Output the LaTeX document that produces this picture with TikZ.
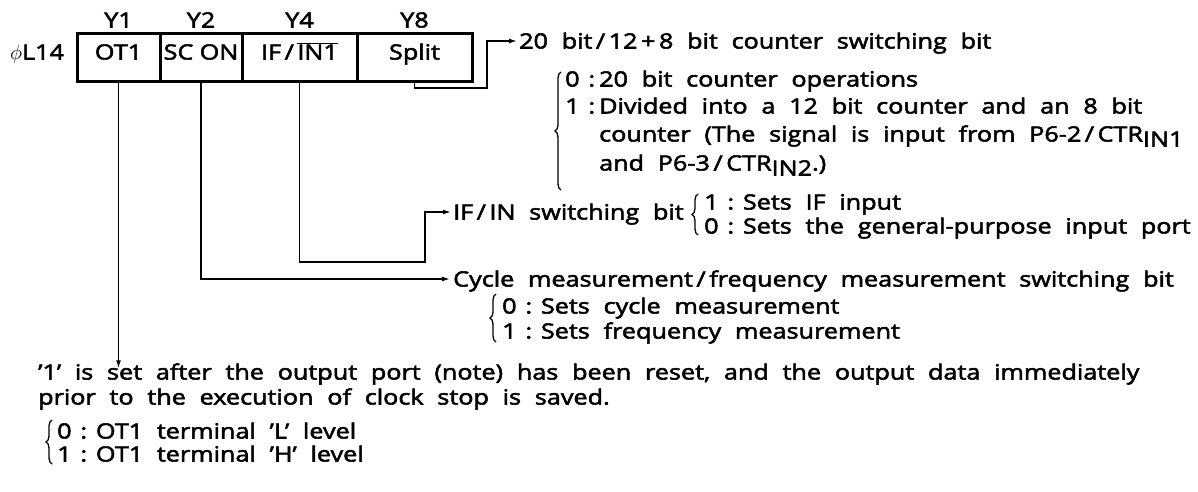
\documentclass[tikz,border=0pt]{standalone}
\usepackage{fontspec}
\setmainfont{Open Sans}[WordSpace=2.1,FakeStretch=1.2,FakeBold=2.5]
\usetikzlibrary{arrows.meta,decorations.pathreplacing}
\newcommand{\csep}{\hspace{0.42em}:\hspace{0.42em}}
\begin{document}
\begin{tikzpicture}[x=1pt,y=-1pt,
  every node/.style={font=\fontsize{21}{25}\selectfont, inner sep=0pt, text height=15pt, text depth=0pt},
  txt/.style={anchor=west},
  cell/.style={draw, line width=3pt, minimum height=48pt, text height=15pt, text depth=10pt},
  conn/.style={line width=1.4pt},
  arr/.style={conn, -{Latex[length=8pt,width=5pt]}},
  brc/.style={line width=1.3pt, decorate, decoration={brace,amplitude=6pt}}]
\useasboundingbox (0,0) rectangle (1198,491);
% register
\node (reg) at (37,52) {$\phi$L14};
\node[cell, minimum width=83pt] (c1) at (118.5,57) {OT1};
\node[cell, minimum width=82pt] (c2) at (201,57) {SC\hspace{0.3em}ON};
\node[cell, minimum width=115pt] (c3) at (299.5,57) {IF\,/\,$\overline{\mbox{IN1}}$};
\node[cell, minimum width=115pt] (c4) at (414.5,57) {Split};
\node (y1) at (c1.center |- 0,20) {Y1};
\node (y2) at (c2.center |- 0,20) {Y2};
\node (y4) at (c3.center |- 0,20) {Y4};
\node (y8) at (c4.center |- 0,20) {Y8};
% Split block
\node[txt] (t20) at (519,41) {20 bit\,/\,12\,+\,8 bit counter switching bit};
\node[txt] (s0k) at (565,79) {0\hspace{0.42em}:};
\node[txt] (s0) at (599,79) {20 bit counter operations};
\node[txt] (s1k) at (565,106) {1\hspace{0.42em}:};
\node[txt] (s1) at (599,106) {Divided into a 12 bit counter and an 8 bit};
\node[txt] (s2) at (599,134) {counter (The signal is input from P6-2\,/\,CTR\raisebox{-5pt}{IN1}};
\node[txt] (s3) at (599,163) {and P6-3\,/\,CTR\raisebox{-5pt}{IN2}.)};
\draw[brc] (561,190) -- (561,72);
\draw[arr] (c4.south) |- (487,88) |- ([xshift=-2pt]t20.west);
% IF block
\node[txt] (tif) at (453,212) {IF\,/\,IN switching bit};
\node[txt] (i1) at (704,202) {1\csep Sets IF input};
\node[txt] (i0) at (704,226) {0\csep Sets the general-purpose input port};
\draw[brc] (698,235) -- (698,194);
\draw[arr] (c3.south) |- (425,262) |- ([xshift=-2pt]tif.west);
% Cycle block
\node[txt] (tcy) at (453,279) {Cycle measurement\,/\,frequency measurement switching bit};
\node[txt] (k0) at (502,306) {0\csep Sets cycle measurement};
\node[txt] (k1) at (502,331) {1\csep Sets frequency measurement};
\draw[brc] (496,342) -- (496,294);
\draw[arr] (c2.south) |- ([xshift=-3pt]tcy.west);
% OT1 block
\node[txt] (b1) at (38,372) {’1’ is set after the output port (note) has been reset, and the output data immediately};
\node[txt] (b2) at (38,397) {prior to the execution of clock stop is saved.};
\node[txt] (o0) at (57,431) {0\csep OT1 terminal ’L’ level};
\node[txt] (o1) at (57,454) {1\csep OT1 terminal ’H’ level};
\draw[brc] (52,464) -- (52,420);
\draw[arr] (c1.south) -- ([yshift=-4pt]c1.south |- b1.north);
\end{tikzpicture}
\end{document}
